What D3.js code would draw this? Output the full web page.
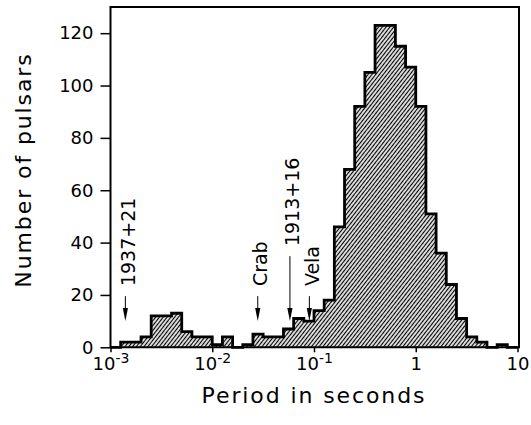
<!DOCTYPE html>
<html>
<head>
<meta charset="utf-8">
<script src="https://cdn.jsdelivr.net/npm/d3@7"></script>
<style>
  body { margin: 0; background: #fff; }
  svg { display: block; font-family: "DejaVu Sans", sans-serif; }
</style>
</head>
<body>
<svg id="drawing"></svg>
<script>
// lower edge of each bin, log10(period / s)
const logBinStart = [-3.0, -2.9, -2.8, -2.7, -2.6, -2.5, -2.4, -2.3, -2.2, -2.1,
                     -2.0, -1.9, -1.8, -1.7, -1.6, -1.5, -1.4, -1.3, -1.2, -1.1,
                     -1.0, -0.9, -0.8, -0.7, -0.6, -0.5, -0.4, -0.3, -0.2, -0.1,
                      0.0,  0.1,  0.2,  0.3,  0.4,  0.5,  0.6,  0.7,  0.8,  0.9];
const logBinWidth = 0.1;
const pulsarCounts = [0, 2, 2, 4, 12, 12, 13, 6, 4, 4,
                      1, 4, 0, 1, 5, 4, 4, 7, 11, 10,
                      14, 18, 46, 68, 92, 105, 123, 123, 115, 107,
                      92, 51, 36, 24, 11, 4, 2, 0, 1, 0];

const yTicks = [0, 20, 40, 60, 80, 100, 120];
const xTicks = [0.001, 0.01, 0.1, 1, 10];
const xTickBase = ['10', '10', '10', '1', '10'];
const xTickExp = ['-3', '-2', '-1', '', ''];

const markerNames = ['1937+21', 'Crab', '1913+16', 'Vela'];
const markerPeriods = [0.0014, 0.028, 0.058, 0.09];

class PeriodHistogram {

    constructor(config, data) {
        this.config = {
            parent: config.parent,
            width: config.width || 531,
            height: config.height || 425,
            margin: config.margin || {top: 7, right: 13.5, bottom: 77.7, left: 110.5},
            xlabel: config.xlabel || '',
            ylabel: config.ylabel || ''
        };
        this.data = data;
        this.init();
    }

    init() {
        let self = this;

        self.svg = d3.select(self.config.parent)
            .attr('width', self.config.width)
            .attr('height', self.config.height);

        self.chart = self.svg.append('g')
            .attr('transform', `translate(${self.config.margin.left}, ${self.config.margin.top})`);

        self.inner_width = self.config.width - self.config.margin.left - self.config.margin.right;
        self.inner_height = self.config.height - self.config.margin.top - self.config.margin.bottom;

        self.xscale = d3.scaleLog()
            .domain([0.001, 10])
            .range([0, self.inner_width]);

        self.yscale = d3.scaleLinear()
            .domain([0, 130])
            .range([self.inner_height, 0]);

        // hatching
        const pat = self.svg.append('defs').append('pattern')
            .attr('id', 'hatch')
            .attr('patternUnits', 'userSpaceOnUse')
            .attr('width', 3)
            .attr('height', 3)
            .attr('patternTransform', 'rotate(38)');
        pat.append('rect').attr('width', 3).attr('height', 3).attr('fill', '#fff');
        pat.append('line')
            .attr('x1', 1.5).attr('y1', 0).attr('x2', 1.5).attr('y2', 3)
            .attr('stroke', '#000').attr('stroke-width', 1.3);

        self.render();
        self.drawAxes();
        self.drawMarkers();
    }

    render() {
        let self = this;
        const pts = self.data.bins.map(d => ({x: Math.pow(10, d.lo), c: d.count}));
        const last = self.data.bins[self.data.bins.length - 1];
        pts.push({x: Math.pow(10, last.lo + self.data.width), c: 0});

        const area = d3.area()
            .curve(d3.curveStepAfter)
            .x(d => self.xscale(d.x))
            .y0(self.yscale(0))
            .y1(d => self.yscale(d.c));

        const line = d3.line()
            .curve(d3.curveStepAfter)
            .x(d => self.xscale(d.x))
            .y(d => self.yscale(d.c));

        self.chart.append('path')
            .datum(pts)
            .attr('d', area)
            .attr('fill', 'url(#hatch)');

        self.chart.append('path')
            .datum(pts)
            .attr('d', line)
            .attr('fill', 'none')
            .attr('stroke', '#000')
            .attr('stroke-width', 2.8)
            .attr('stroke-linejoin', 'miter');
    }

    drawAxes() {
        let self = this;

        self.yaxis = d3.axisLeft(self.yscale)
            .tickValues(self.data.yTicks)
            .tickSize(10)
            .tickPadding(7)
            .tickSizeOuter(0);

        self.xaxis = d3.axisBottom(self.xscale)
            .tickValues(self.data.xTicks)
            .tickFormat('')
            .tickSize(5)
            .tickPadding(6)
            .tickSizeOuter(0);

        const yg = self.chart.append('g').call(self.yaxis);
        yg.select('.domain').remove();
        yg.selectAll('.tick line').attr('stroke-width', 1.5);
        yg.selectAll('.tick text')
            .attr('font-size', 18)
            .attr('font-family', '"DejaVu Sans", sans-serif')
            .attr('fill', '#000');

        const xg = self.chart.append('g')
            .attr('transform', `translate(0, ${self.inner_height})`)
            .call(self.xaxis);
        xg.select('.domain').remove();
        xg.selectAll('.tick line').attr('stroke-width', 1.5);
        xg.selectAll('.tick text').each(function(d, i) {
            const t = d3.select(this)
                .attr('font-size', 18)
                .attr('font-family', '"DejaVu Sans", sans-serif')
                .attr('fill', '#000')
                .attr('y', 23)
                .attr('dy', 0);
            t.append('tspan').text(self.data.xTickBase[i]);
            if (self.data.xTickExp[i]) {
                t.append('tspan')
                    .attr('font-size', 14)
                    .attr('dy', -7)
                    .text(self.data.xTickExp[i]);
            }
        });

        // frame
        self.chart.append('path')
            .attr('d', `M0,${self.inner_height}V0H${self.inner_width + 1.5}V${self.inner_height}H0`)
            .attr('fill', 'none')
            .attr('stroke', '#000')
            .attr('stroke-width', 2);

        self.svg.append('text')
            .attr('x', 314)
            .attr('y', 403)
            .attr('text-anchor', 'middle')
            .attr('font-size', 22)
            .attr('letter-spacing', 1.9)
            .text(self.config.xlabel);

        self.svg.append('text')
            .attr('transform', 'translate(31, 170) rotate(-90)')
            .attr('text-anchor', 'middle')
            .attr('font-size', 22)
            .attr('letter-spacing', 1.9)
            .text(self.config.ylabel);
    }

    drawMarkers() {
        let self = this;
        const tipY = self.yscale(10);
        // the 1913+16 label sits higher than the others
        const lift = {'1913+16': 40};

        self.data.markers.forEach(m => {
            const x = self.xscale(m.period);
            const up = lift[m.name] || 0;
            self.chart.append('line')
                .attr('x1', x).attr('x2', x)
                .attr('y1', tipY - 25 - up).attr('y2', tipY - 8)
                .attr('stroke', '#000')
                .attr('stroke-width', 1);
            self.chart.append('path')
                .attr('d', `M${x},${tipY}L${x - 2.6},${tipY - 13}L${x + 2.6},${tipY - 13}Z`)
                .attr('fill', '#000');
            self.chart.append('text')
                .attr('transform', `translate(${x + 2.5}, ${tipY - 35 - up}) rotate(-90)`)
                .attr('dy', '0.36em')
                .attr('font-size', 19)
                .text(m.name);
        });
    }
}

const bins = logBinStart.map((lo, i) => ({lo: lo, count: pulsarCounts[i]}));
const markers = markerNames.map((n, i) => ({name: n, period: markerPeriods[i]}));

new PeriodHistogram({
    parent: '#drawing',
    xlabel: 'Period in seconds',
    ylabel: 'Number of pulsars'
}, {
    bins: bins,
    width: logBinWidth,
    yTicks: yTicks,
    xTicks: xTicks,
    xTickBase: xTickBase,
    xTickExp: xTickExp,
    markers: markers
});
</script>
</body>
</html>
